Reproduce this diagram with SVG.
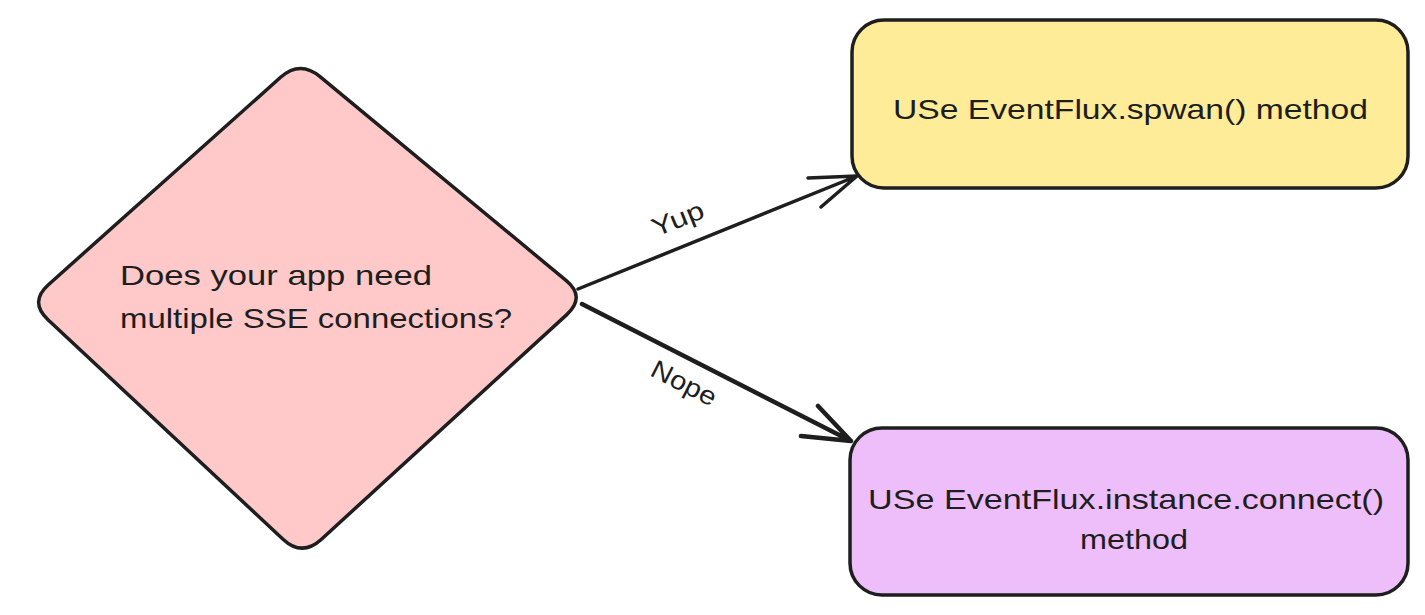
<svg xmlns="http://www.w3.org/2000/svg" width="1425" height="615" viewBox="0 0 1425 615">
<style>
.shape{stroke:#1e1e1e;stroke-width:3.5;stroke-linejoin:round}
.t{font-family:"Liberation Sans",Arial,sans-serif;font-size:28px;fill:#1e1e1e}
.lbl{font-family:"Liberation Sans",Arial,sans-serif;font-size:26px;fill:#1e1e1e}
.edge{fill:none;stroke:#1e1e1e;stroke-linecap:round;stroke-linejoin:round}
</style>
<rect width="1425" height="615" fill="#ffffff"/>
<g id="decision">
<path class="shape" fill="#ffc9c9" d="M 280.6,77.3 Q 300,60 320,76.6 L 566,280.4 Q 586,297 566.8,314.6 L 321.2,539.5 Q 302,557 283,539.2 L 48,319.8 Q 29,302 48.4,284.7 Z"/>
<text class="t" x="120" y="285" textLength="312" lengthAdjust="spacingAndGlyphs">Does your app need</text>
<text class="t" x="120" y="328" textLength="392" lengthAdjust="spacingAndGlyphs">multiple SSE connections?</text>
</g>
<g id="spawn">
<rect class="shape" fill="#ffec99" x="852" y="20" width="556" height="168" rx="32"/>
<text class="t" x="893" y="119" textLength="475" lengthAdjust="spacingAndGlyphs">USe EventFlux.spwan() method</text>
</g>
<g id="connect">
<rect class="shape" fill="#eebefa" x="850" y="428" width="558" height="167" rx="32"/>
<text class="t" x="868" y="509" textLength="516" lengthAdjust="spacingAndGlyphs">USe EventFlux.instance.connect()</text>
<text class="t" x="1080" y="549" textLength="108" lengthAdjust="spacingAndGlyphs">method</text>
</g>
<g id="connectors">
<path class="edge" stroke-width="3.5" d="M 578,289 L 857,176 M 808,178 L 857,176 L 821,207"/>
<path class="edge" stroke-width="4.5" d="M 582,304 L 851,441 M 818,406 L 851,441 L 801,436"/>
<text class="lbl" transform="translate(681,227) rotate(-22)" text-anchor="middle" textLength="54" lengthAdjust="spacingAndGlyphs">Yup</text>
<text class="lbl" transform="translate(680,391) rotate(27)" text-anchor="middle" textLength="70" lengthAdjust="spacingAndGlyphs">Nope</text>
</g>
</svg>
